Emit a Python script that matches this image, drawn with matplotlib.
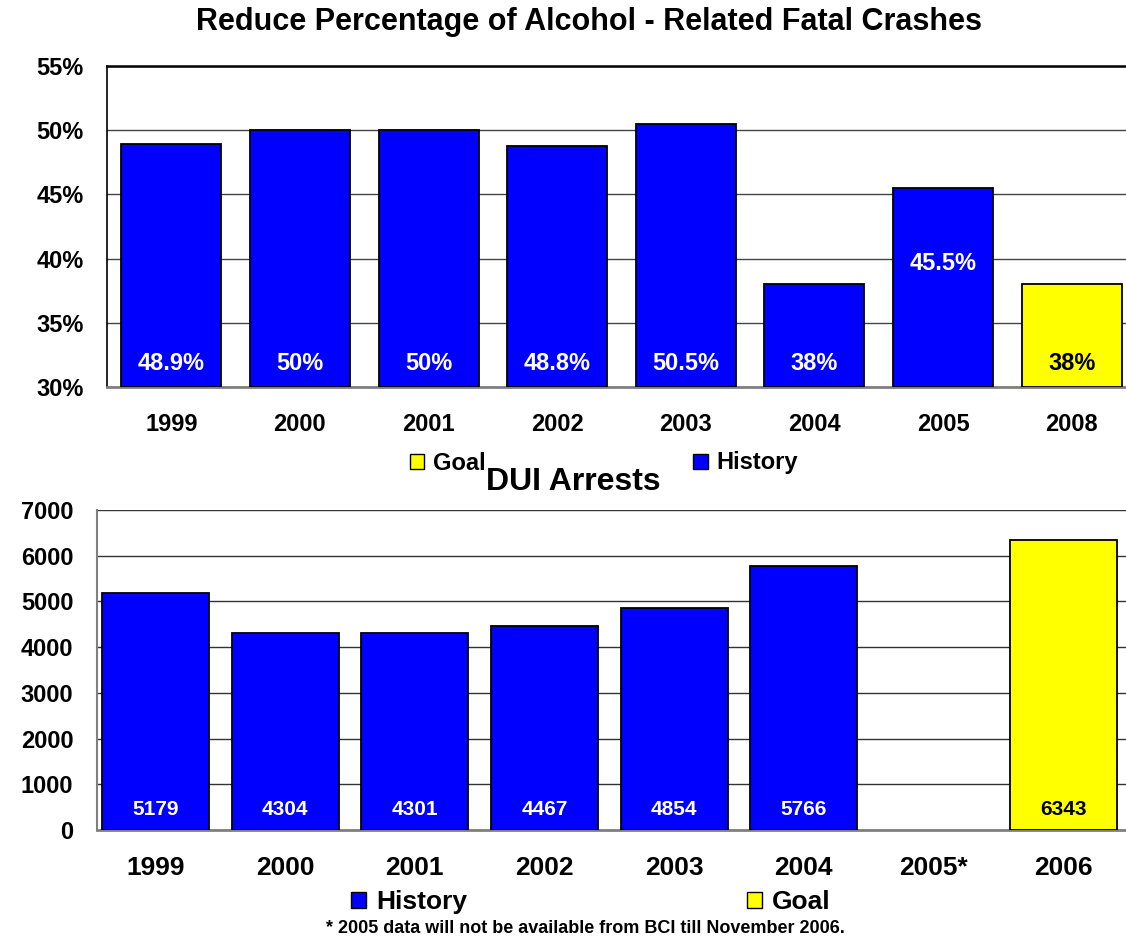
import matplotlib
matplotlib.use("Agg")
import matplotlib.pyplot as plt
from matplotlib.patches import Patch

plt.rcParams['font.family'] = ['Liberation Sans', 'DejaVu Sans']
plt.rcParams['font.weight'] = 'bold'

# data - top chart (percent of fatal crashes alcohol related)
pct_years = ['1999', '2000', '2001', '2002', '2003', '2004', '2005', '2008']
pct_values = [48.9, 50, 50, 48.8, 50.5, 38, 45.5, 38]
pct_labels = ['48.9%', '50%', '50%', '48.8%', '50.5%', '38%', '45.5%', '38%']
pct_is_goal = [False, False, False, False, False, False, False, True]

# data - bottom chart (DUI arrests)
dui_years = ['1999', '2000', '2001', '2002', '2003', '2004', '2005*', '2006']
dui_values = [5179, 4304, 4301, 4467, 4854, 5766, None, 6343]
dui_is_goal = [False, False, False, False, False, False, False, True]

BLUE = '#0000ff'
YELLOW = '#ffff00'

fig = plt.figure(figsize=(11.26, 9.38), dpi=100)

W, H = 1126.0, 938.0

# ---------- top chart ----------
ax1 = fig.add_axes([107 / W, 1 - 387 / H, (1136 - 107) / W, (387 - 66) / H])
x = range(len(pct_years))
cols = [YELLOW if g else BLUE for g in pct_is_goal]
ax1.bar(x, [v - 30 for v in pct_values], bottom=30, width=0.777, color=cols,
        edgecolor='black', linewidth=1.3, zorder=3)
for i, lab in enumerate(pct_labels):
    ypos = 39.6 if pct_years[i] == '2005' else 31.85
    ax1.text(i, ypos, lab, ha='center', va='center', fontsize=17, fontweight='bold',
             color='black' if pct_is_goal[i] else 'white', zorder=4)
ax1.set_xlim(-0.5, len(pct_years) - 0.5)
ax1.set_ylim(30, 55)
ax1.set_yticks([30, 35, 40, 45, 50, 55])
ax1.set_yticklabels(['30%', '35%', '40%', '45%', '50%', '55%'])
ax1.set_xticks(list(x))
ax1.set_xticklabels(pct_years)
ax1.tick_params(axis='both', length=0, labelsize=17)
ax1.tick_params(axis='x', pad=18.5)
ax1.tick_params(axis='y', pad=17)
ax1.yaxis.grid(True, color='#444444', linewidth=1.0, zorder=0)
ax1.spines['right'].set_visible(False)
ax1.spines['top'].set_color('black')
ax1.spines['top'].set_linewidth(1.8)
ax1.spines['left'].set_color('black')
ax1.spines['left'].set_linewidth(1.2)
ax1.spines['bottom'].set_color('#808080')
ax1.spines['bottom'].set_linewidth(2)

fig.text(589 / W, 1 - 22 / H, 'Reduce Percentage of Alcohol - Related Fatal Crashes',
         ha='center', va='center', fontsize=22, fontweight='bold')

leg1 = fig.legend(handles=[Patch(facecolor=YELLOW, edgecolor='black', label='Goal'),
                           Patch(facecolor=BLUE, edgecolor='black', label='History')],
                  loc='center', bbox_to_anchor=(604 / W, 1 - 463 / H), ncol=2,
                  frameon=False, fontsize=17, handlelength=0.6, handleheight=0.6,
                  handletextpad=0.38, columnspacing=8.8, borderpad=0)

# ---------- bottom chart ----------
ax2 = fig.add_axes([97 / W, 1 - 830 / H, (1128 - 97) / W, (830 - 510) / H])
cols2 = [YELLOW if g else BLUE for g in dui_is_goal]
for i, v in enumerate(dui_values):
    if v is None:
        continue
    ax2.bar(i, v, width=0.825, color=cols2[i], edgecolor='black', linewidth=1.3, zorder=3)
    ax2.text(i, 440, str(v), ha='center', va='center', fontsize=15, fontweight='bold',
             color='black' if dui_is_goal[i] else 'white', zorder=4)
ax2.set_xlim(-0.45, len(dui_years) - 0.5)
ax2.set_ylim(0, 7000)
ax2.set_yticks(range(0, 7001, 1000))
ax2.set_xticks(range(len(dui_years)))
ax2.set_xticklabels(dui_years)
ax2.tick_params(axis='both', length=0)
ax2.tick_params(axis='x', pad=18.5, labelsize=19)
ax2.tick_params(axis='y', pad=17, labelsize=17)
ax2.yaxis.grid(True, color='#333333', linewidth=1.0, zorder=0)
ax2.spines['right'].set_visible(False)
ax2.spines['top'].set_visible(False)
ax2.spines['left'].set_color('#808080')
ax2.spines['left'].set_linewidth(1.5)
ax2.spines['bottom'].set_color('#808080')
ax2.spines['bottom'].set_linewidth(2)

fig.text(573 / W, 1 - 482 / H, 'DUI Arrests', ha='center', va='center',
         fontsize=23, fontweight='bold')

leg2 = fig.legend(handles=[Patch(facecolor=BLUE, edgecolor='black', label='History'),
                           Patch(facecolor=YELLOW, edgecolor='black', label='Goal')],
                  loc='center', bbox_to_anchor=(591 / W, 1 - 902 / H), ncol=2,
                  frameon=False, fontsize=19, handlelength=0.57, handleheight=0.57,
                  handletextpad=0.38, columnspacing=10.6, borderpad=0)

fig.text(585 / W, 1 - 928 / H,
         '* 2005 data will not be available from BCI till November 2006.',
         ha='center', va='center', fontsize=13, fontweight='bold')

fig.savefig('out.png', dpi=100)
